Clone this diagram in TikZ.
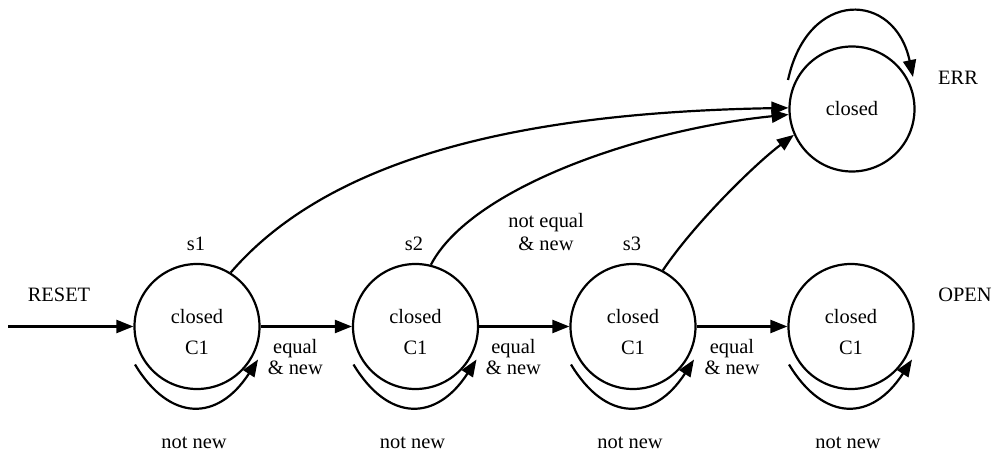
\documentclass[tikz,border=0pt]{standalone}
\usepackage{fontspec}
\setmainfont{Liberation Serif}
\usetikzlibrary{arrows.meta,calc}

\begin{document}
\begin{tikzpicture}[x=1bp,y=-1bp,
  every node/.style={font=\fontsize{20.5}{21}\selectfont, inner sep=0pt},
  state/.style={circle, draw, line width=2.2bp, minimum size=125bp},
  wire/.style={line width=2.2bp, -{Triangle[length=17bp,width=13bp]}},
  lbl/.style={align=center, anchor=north, yshift=-12bp},
  ttl/.style={anchor=base}]
  \useasboundingbox (0,0) rectangle (994,451);

  % states
  \node[state] (s1) at (197,326.5) {};
  \node[state] (s2) at (415.5,326.5) {};
  \node[state] (s3) at (633,326.5) {};
  \node[state] (open) at (851,326.5) {};
  \node[state] (err) at (852,109) {closed};

  % state contents
  \foreach \n in {s1,s2,s3,open}
    \node[align=center, font=\fontsize{20.5}{31}\selectfont] (\n txt)
      at ([yshift=-5.5bp]\n.center) {closed\\C1};

  % state names
  \node[ttl] (n1) at (196,251) {s1};
  \node[ttl] (n2) at (414,251) {s2};
  \node[ttl] (n3) at (632,251) {s3};
  \node[ttl] (nreset) at (59,302) {RESET};
  \node[ttl] (nopen) at (965,302) {OPEN};
  \node[ttl] (nerr) at (958,85) {ERR};

  % reset entry
  \coordinate (rin) at (8,326.5);
  \draw[wire] (rin) -- (s1);

  % forward transitions
  \draw[wire] (s1) -- node[lbl, pos=0.38] (e1) {equal\\\& new} (s2);
  \draw[wire] (s2) -- node[lbl, pos=0.38] (e2) {equal\\\& new} (s3);
  \draw[wire] (s3) -- node[lbl, pos=0.39] (e3) {equal\\\& new} (open);

  % self loops
  \foreach \n in {s1,s2,s3,open} {
    \draw[wire] ([shift={(-62,38)}]\n.center)
      .. controls +(35,58) and +(-40,62) .. ([shift={(61,33)}]\n.center);
    \node[ttl] (\n nn) at ([shift={(-3,122)}]\n.center) {not new};
  }
  \draw[wire] ([shift={(-64,-29)}]err.center)
    .. controls +(20,-92) and +(-18,-86) .. ([shift={(61,-32)}]err.center);

  % transitions into the error state
  \draw[wire] (s1.58) .. controls +(110,-128) and +(-228,4) .. (err.179);
  \draw[wire] (s2.76) .. controls +(40,-77) and +(-148,15) .. (err.185);
  \draw[wire] (s3.62) .. controls +(30,-45) and +(-40,30) .. (err.204);
  \node[align=center, font=\fontsize{20.5}{24}\selectfont] (ne) at (546,232) {not equal\\\& new};
\end{tikzpicture}
\end{document}
